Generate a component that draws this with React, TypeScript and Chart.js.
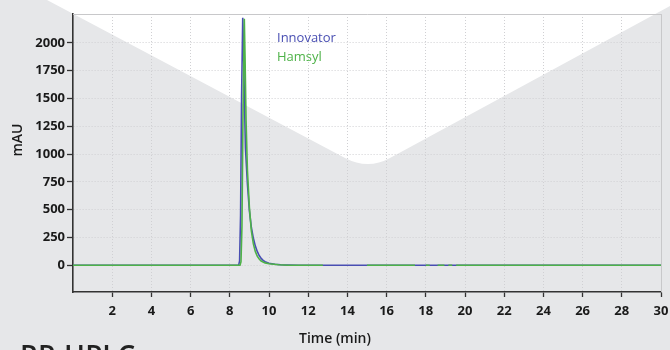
import React, { useEffect, useRef } from "react";
import { Chart, registerables } from "chart.js";

Chart.register(...registerables);

const seriesNames = ["Innovator", "Hamsyl"];
const xTickValues = [2, 4, 6, 8, 10, 12, 14, 16, 18, 20, 22, 24, 26, 28, 30];
const yTickValues = [0, 250, 500, 750, 1000, 1250, 1500, 1750, 2000];

const innovatorTime = [0, 8.45, 8.5, 8.55, 8.6, 8.66, 8.7, 8.75, 8.8, 8.9, 9.0, 9.1, 9.2, 9.3, 9.4, 9.5, 9.6, 9.7, 9.8, 10.0, 10.3, 10.6, 11.0, 11.5, 30];
const innovatorValue = [0, 0, 40, 450, 1500, 2226, 1950, 1450, 1050, 730, 490, 340, 245, 175, 125, 88, 62, 44, 32, 19, 10, 5, 2, 0, 0];

const hamsylTime = [0, 8.52, 8.57, 8.62, 8.67, 8.74, 8.78, 8.83, 8.9, 9.0, 9.1, 9.2, 9.3, 9.4, 9.5, 9.6, 9.8, 10.0, 10.5, 11.0, 12.0, 12.75, 12.8, 15.0, 17.45, 17.7, 18.0, 18.2, 18.4, 18.6, 18.95, 19.05, 19.15, 19.35, 19.45, 19.55, 30];
const hamsylValue = [0, 0, 30, 350, 1300, 2218, 1850, 1300, 850, 520, 310, 195, 125, 82, 56, 38, 22, 14, 5, 1, 0, 0, null, 0, 0, null, 0, 0, null, 0, 0, null, 0, 0, null, 0, 0];

const BLUE = "rgb(72,78,178)";
const GREEN = "rgb(78,178,72)";
const BG_GRAY = "rgb(230,231,233)";
const FONT = "'Open Sans', 'DejaVu Sans', sans-serif";

const backgroundPlugin = {
  id: "bgShape",
  beforeDraw(chart: any) {
    const ctx = chart.ctx;
    const w = chart.width;
    const h = chart.height;
    ctx.save();
    ctx.fillStyle = BG_GRAY;
    ctx.fillRect(0, 0, w, h);
    ctx.fillStyle = "#ffffff";
    ctx.beginPath();
    ctx.moveTo(47, 0);
    ctx.lineTo(w, 0);
    ctx.lineTo(w, 6);
    ctx.lineTo(390, 158);
    ctx.quadraticCurveTo(368, 170, 345, 158);
    ctx.closePath();
    ctx.fill();
    ctx.restore();
  },
  beforeDatasetsDraw(chart: any) {
    const { ctx, chartArea } = chart;
    ctx.save();
    ctx.strokeStyle = "rgb(200,200,202)";
    ctx.lineWidth = 1;
    ctx.beginPath();
    ctx.moveTo(chartArea.left, chartArea.top + 0.5);
    ctx.lineTo(chartArea.right + 0.5, chartArea.top + 0.5);
    ctx.lineTo(chartArea.right + 0.5, chartArea.bottom);
    ctx.stroke();
    ctx.restore();
  },
  afterDraw(chart: any) {
    const { ctx } = chart;
    ctx.save();
    ctx.font = `13px ${FONT}`;
    ctx.textAlign = "left";
    ctx.textBaseline = "middle";
    chart.data.datasets.forEach((ds: any) => {
      const idx = seriesNames.indexOf(ds.label);
      ctx.fillStyle = ds.borderColor;
      ctx.fillText(ds.label, 277, 38 + idx * 19);
    });
    ctx.fillStyle = "#1a1a1a";
    ctx.font = `600 14px ${FONT}`;
    ctx.textAlign = "center";
    ctx.fillText("Time (min)", 335, 339);
    ctx.save();
    ctx.translate(18, 140);
    ctx.rotate(-Math.PI / 2);
    ctx.fillText("mAU", 0, 0);
    ctx.restore();
    ctx.font = `600 28px ${FONT}`;
    ctx.textAlign = "left";
    ctx.textBaseline = "top";
    ctx.fillStyle = "#222";
    ctx.fillText("RP-HPLC", 20, 344);
    ctx.restore();
  },
};

export default function App() {
  const canvasRef = useRef<HTMLCanvasElement | null>(null);

  useEffect(() => {
    const canvas = canvasRef.current;
    if (!canvas) return;
    const innovatorPoints = innovatorTime.map((t, i) => ({ x: t, y: innovatorValue[i] }));
    const hamsylPoints = hamsylTime.map((t, i) => ({ x: t, y: hamsylValue[i] }));

    const chart = new Chart(canvas, {
      type: "line",
      data: {
        datasets: [
          {
            label: seriesNames[0],
            data: innovatorPoints,
            borderColor: BLUE,
            borderWidth: 1.6,
            pointRadius: 0,
            tension: 0,
            spanGaps: false,
            order: 1,
          },
          {
            label: seriesNames[1],
            data: hamsylPoints as any,
            borderColor: GREEN,
            borderWidth: 1.6,
            pointRadius: 0,
            tension: 0,
            spanGaps: false,
            order: 0,
          },
        ],
      },
      options: {
        animation: false,
        responsive: false,
        layout: { padding: { left: 0, right: 9, top: 14, bottom: 0 } },
        plugins: {
          legend: { display: false },
          tooltip: { enabled: false },
        },
        scales: {
          x: {
            type: "linear",
            min: 0,
            max: 30,
            afterBuildTicks: (scale: any) => {
              scale.ticks = xTickValues.map((v) => ({ value: v }));
            },
            afterFit: (scale: any) => {
              scale.height = 58;
              scale.paddingLeft = 0;
              scale.paddingRight = 0;
            },
            grid: {
              color: "rgb(208,208,211)",
              lineWidth: 1,
              tickColor: "#333",
              tickLength: 5,
              tickWidth: 1.3,
            },
            border: { color: "#333", width: 1.6, dash: [1, 2] },
            ticks: {
              color: "#1a1a1a",
              font: { family: FONT, size: 13, weight: "700" },
              padding: 6,
              maxRotation: 0,
              autoSkip: false,
              callback: (v: any) => String(v),
            },
          },
          y: {
            type: "linear",
            min: -240,
            max: 2260,
            afterBuildTicks: (scale: any) => {
              scale.ticks = yTickValues.map((v) => ({ value: v }));
            },
            afterFit: (scale: any) => {
              scale.width = 73;
              scale.paddingTop = 0;
              scale.paddingBottom = 0;
            },
            grid: {
              color: "rgb(208,208,211)",
              lineWidth: 1,
              tickColor: "#333",
              tickLength: 6,
              tickWidth: 1.3,
            },
            border: { color: "#333", width: 1.6, dash: [1, 2] },
            ticks: {
              color: "#1a1a1a",
              font: { family: FONT, size: 13, weight: "700" },
              padding: 2,
              autoSkip: false,
              callback: (v: any) => String(v),
            },
          },
        },
      },
      plugins: [backgroundPlugin],
    });
    return () => chart.destroy();
  }, []);

  return (
    <div style={{ position: "absolute", left: 0, top: 0, width: 670, height: 350, overflow: "hidden" }}>
      <canvas ref={canvasRef} width={670} height={350} style={{ display: "block" }} />
    </div>
  );
}
